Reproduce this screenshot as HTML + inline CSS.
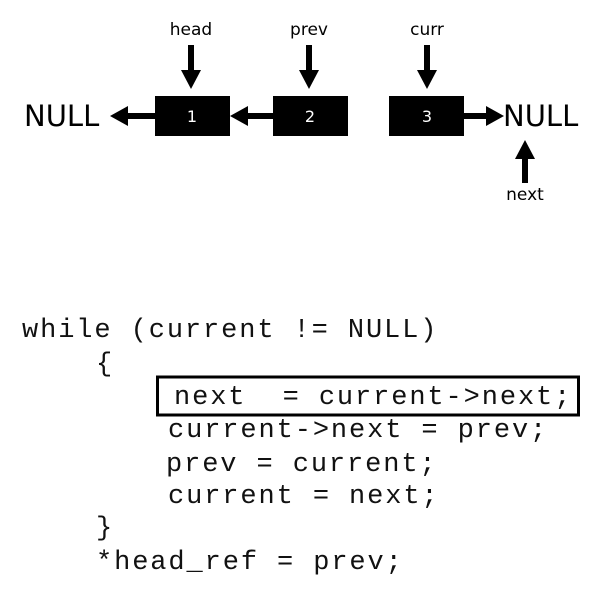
<!DOCTYPE html>
<html><head><style>
body{margin:0;width:600px;height:597px;background:#fff;overflow:hidden}
svg{display:block}
.s{font-family:"DejaVu Sans","Liberation Sans",sans-serif}
.m{font-family:"Liberation Mono",monospace;font-size:27px;letter-spacing:1.9px;fill:#111;white-space:pre}
</style></head><body>
<svg width="600" height="597" viewBox="0 0 600 597">
<g class="s">
<text x="24" y="126" font-size="29" fill="#000">NULL</text>
<text x="503" y="126" font-size="29" fill="#000">NULL</text>
<text x="191" y="35" font-size="17" text-anchor="middle">head</text>
<text x="309" y="35" font-size="17" text-anchor="middle">prev</text>
<text x="427" y="35" font-size="17" text-anchor="middle">curr</text>
<text x="525" y="200" font-size="17" text-anchor="middle">next</text>
</g>
<rect x="155" y="96" width="75" height="40" fill="#000"/>
<rect x="273" y="96" width="75" height="40" fill="#000"/>
<rect x="389" y="96" width="75" height="40" fill="#000"/>
<g class="s" font-size="16" fill="#fff" text-anchor="middle">
<text x="192" y="122">1</text><text x="310" y="122">2</text><text x="427" y="122">3</text>
</g>
<rect x="125" y="113" width="30" height="6"/>
<polygon points="110,116 128,106 128,126"/>
<rect x="245" y="113" width="28" height="6"/>
<polygon points="230,116 248,106 248,126"/>
<rect x="464" y="113" width="26" height="6"/>
<polygon points="504,116 486,106 486,126"/>
<g>
<rect x="188" y="45" width="6" height="27"/><polygon points="181,70 201,70 191,89"/>
<rect x="306" y="45" width="6" height="27"/><polygon points="299,70 319,70 309,89"/>
<rect x="424" y="45" width="6" height="27"/><polygon points="417,70 437,70 427,89"/>
<rect x="522" y="157" width="6" height="26"/><polygon points="515,159 535,159 525,140"/>
</g>
<text class="m" x="22" y="337">while (current != NULL)</text>
<text class="m" x="96" y="371">{</text>
<rect x="157.5" y="377" width="421" height="38" fill="none" stroke="#000" stroke-width="3"/>
<text class="m" x="174" y="404" xml:space="preserve">next  = current-&gt;next;</text>
<text class="m" x="168" y="437">current-&gt;next = prev;</text>
<text class="m" x="166" y="471">prev = current;</text>
<text class="m" x="168" y="503">current = next;</text>
<text class="m" x="96" y="535">}</text>
<text class="m" x="96" y="569">*head_ref = prev;</text>
</svg>
</body></html>
